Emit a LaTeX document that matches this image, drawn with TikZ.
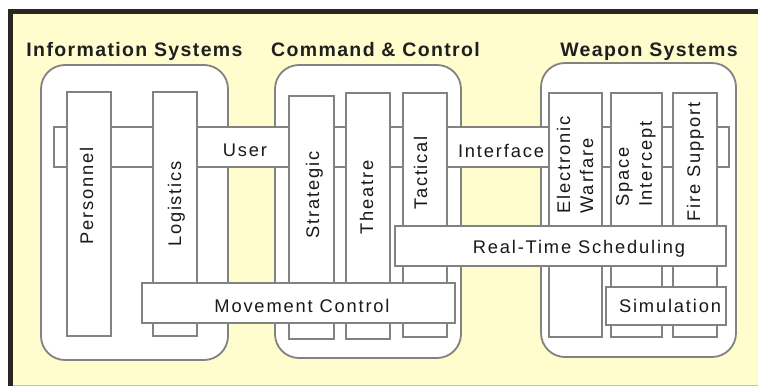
\documentclass[tikz,border=0pt]{standalone}
\usepackage{fontspec}
\setmainfont{Liberation Sans}
\newfontfamily\lblfont[LetterSpace=10]{Liberation Sans}
\newfontfamily\headfont[LetterSpace=7]{Liberation Sans}
\definecolor{paper}{RGB}{255,252,206}
\definecolor{rim}{RGB}{42,38,34}
\definecolor{edge}{RGB}{130,130,130}
\tikzset{
  group/.style={draw=edge, line width=1.8pt, fill=white, rounded corners=24pt,
                inner sep=0pt, outer sep=0pt},
  slab/.style={draw=edge, line width=1.4pt, fill=white, inner sep=0pt, outer sep=0pt},
  title/.style={font=\headfont\bfseries\fontsize{19.5}{22}\selectfont, text=black!88,
                inner sep=0pt, anchor=base},
  txt/.style={font=\lblfont\fontsize{18.3}{22}\selectfont, text=black!90,
              inner sep=0pt, anchor=base},
  vtxt/.style={txt, rotate=90},
  vpair/.style={font=\lblfont\fontsize{18.3}{23}\selectfont, text=black!90,
                inner sep=0pt, anchor=center, rotate=90, align=left}
}
% a box given by its corners (x1,y1) and (x2,y2)
\newcommand{\panel}[6]{%
  \node[#1, minimum width={#4-#2}, minimum height={#5-#3}]
    (#6) at ({(#2+#4)/2},{(#3+#5)/2}) {};}
\begin{document}
\begin{tikzpicture}[x=1pt,y=-1pt]
\useasboundingbox (0,0) rectangle (758,386);
\fill[white] (0,0) rectangle (758,386);
% cream sheet with its dark top and left rim
\fill[paper] (8,9) rectangle (758,386);
\fill[rim] (8,9) rectangle (758,14);
\fill[rim] (8,9) rectangle (13,386);
\draw[black!25, line width=1pt] (13,385.5) -- (758,385.5);

% the three system groups
\panel{group}{41}{65}{228}{360}{info}
\panel{group}{275}{65}{461}{358}{cmd}
\panel{group}{541}{63}{736}{357}{weap}

% horizontal user interface band
\panel{slab}{54}{127}{729}{167}{band}

% vertical columns
\panel{slab}{67}{92}{111}{336}{pers}
\panel{slab}{153}{92}{197}{336}{logi}
\panel{slab}{289}{96}{334}{339}{strat}
\panel{slab}{346}{93}{390}{339}{theat}
\panel{slab}{403}{93}{447}{337}{tact}
\panel{slab}{549}{93}{602}{337}{ew}
\panel{slab}{611}{93}{662}{337}{space}
\panel{slab}{673}{93}{717}{337}{fire}

% crossing services
\panel{slab}{395}{226}{726}{266}{rts}
\panel{slab}{142}{283}{455}{323}{move}
\panel{slab}{606}{287}{726}{325}{sim}

% titles
\node[title] (t-info) at (134.5,56) {Information Systems};
\node[title] (t-cmd)  at (375.5,56) {Command \& Control};
\node[title] (t-weap) at (649,56)   {Weapon Systems};

% horizontal labels
\node[txt] (l-user)  at (245,156) {User};
\node[txt] (l-intf)  at (501,157) {Interface};
\node[txt] (l-rts)   at (579,253) {Real-Time Scheduling};
\node[txt] (l-move)  at (302,312) {Movement Control};
\node[txt] (l-sim)   at (670,312) {Simulation};

% column labels, reading upwards
\node[vtxt] (l-pers)  at (93,196)  {Personnel};
\node[vtxt] (l-logi)  at (181,204) {Logistics};
\node[vtxt] (l-strat) at (319,195) {Strategic};
\node[vtxt] (l-theat) at (373,197) {Theatre};
\node[vtxt] (l-tact)  at (427,173) {Tactical};
\node[vpair] (l-ew)    at (575,165) {Electronic\\Warfare};
\node[vpair] (l-space) at (636,164) {Space\\Intercept};
\node[vtxt] (l-fire)  at (700,162) {Fire Support};
\end{tikzpicture}
\end{document}
